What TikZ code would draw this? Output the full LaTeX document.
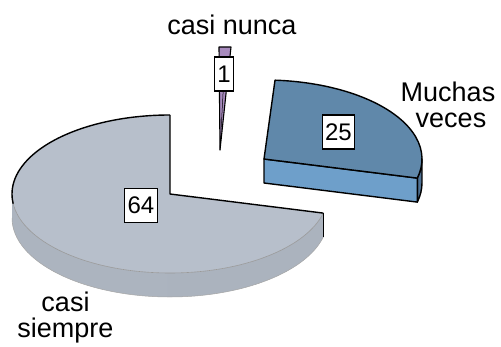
\documentclass[tikz,border=0pt]{standalone}
\usepackage{fontspec}
\setmainfont{Liberation Sans}
\definecolor{graytop}{HTML}{B7BFCB}
\definecolor{graysideA}{HTML}{ACB4BF}
\definecolor{graysideB}{HTML}{DCE4EE}
\definecolor{graysideC}{HTML}{ABB3BE}
\definecolor{bluetop}{HTML}{6088AA}
\definecolor{bluecut}{HTML}{6E9FCA}
\definecolor{blueside}{HTML}{4F7295}
\definecolor{purp}{HTML}{A88BBE}
\begin{document}
\begin{tikzpicture}[x=1pt,y=1pt,
  outl/.style={draw=black, line width=1.4pt, line join=round},
  lbl/.style={font=\fontsize{27}{27}\selectfont, inner sep=0pt, anchor=base},
  valbox/.style={draw=black, fill=white, line width=1.1pt, font=\fontsize{24}{24}\selectfont, inner xsep=2.8pt, inner ysep=0pt, minimum height=34pt}]
\useasboundingbox (0,0) rectangle (501,347);
% ---- gray slice (casi siempre) ----
\coordinate (G) at (170,153);
\shade[left color=graysideA, middle color=graysideB, right color=graysideC]
  (12,153) arc[start angle=180, end angle=346, x radius=158pt, y radius=79pt]
  -- ++(0,-24) arc[start angle=346, end angle=180, x radius=158pt, y radius=79pt] -- cycle;
\draw[draw=gray!70, line width=0.5pt] (12,129) arc[start angle=180, end angle=346, x radius=158pt, y radius=79pt];
\fill[graytop] (G) -- (170,232) arc[start angle=90, end angle=346, x radius=158pt, y radius=79pt] -- cycle;
\draw[draw=gray!80, line width=0.6pt] (12,153) arc[start angle=180, end angle=346, x radius=158pt, y radius=79pt];
\draw[outl] (170,232) arc[start angle=90, end angle=187, x radius=158pt, y radius=79pt];
\draw[outl] (323.3,133.9) -- (G) -- (170,232);
\draw[outl] (323.3,133.9) -- ++(0,-24);
% ---- blue slice (Muchas veces) ----
\coordinate (B) at (264,188);
\filldraw[fill=blueside, outl] (417.3,168.9) arc[start angle=-14, end angle=0, x radius=158pt, y radius=79pt]
  -- ++(0,-24) arc[start angle=0, end angle=-14, x radius=158pt, y radius=79pt] -- cycle;
\filldraw[fill=bluecut, outl] (B) -- (417.3,168.9) -- ++(0,-24) -- (264,164) -- cycle;
\filldraw[fill=bluetop, outl] (B) -- (417.3,168.9) arc[start angle=-14, end angle=86, x radius=158pt, y radius=79pt] -- cycle;
% ---- purple slice (casi nunca) ----
\coordinate (P) at (220,197);
\filldraw[fill=purp, draw=black, line width=1.1pt, line join=round] (P) -- (219,300) -- (231,300) -- cycle;
\draw[black, line width=0.5pt] (P) -- (225,290);
% ---- value boxes ----
\node[valbox] (v1) at (224,273) {1};
\node[valbox] (v25) at (338.5,215) {25};
\node[valbox] (v64) at (141,141.5) {64};
% ---- labels ----
\node[lbl] (lnunca) at (232,312) {casi nunca};
\node[lbl] (lmuchas) at (448,245) {Muchas};
\node[lbl] (lveces) at (451,219) {veces};
\node[lbl] (lcasi) at (65.5,35) {casi};
\node[lbl] (lsiempre) at (65.5,9) {siempre};
\end{tikzpicture}
\end{document}
